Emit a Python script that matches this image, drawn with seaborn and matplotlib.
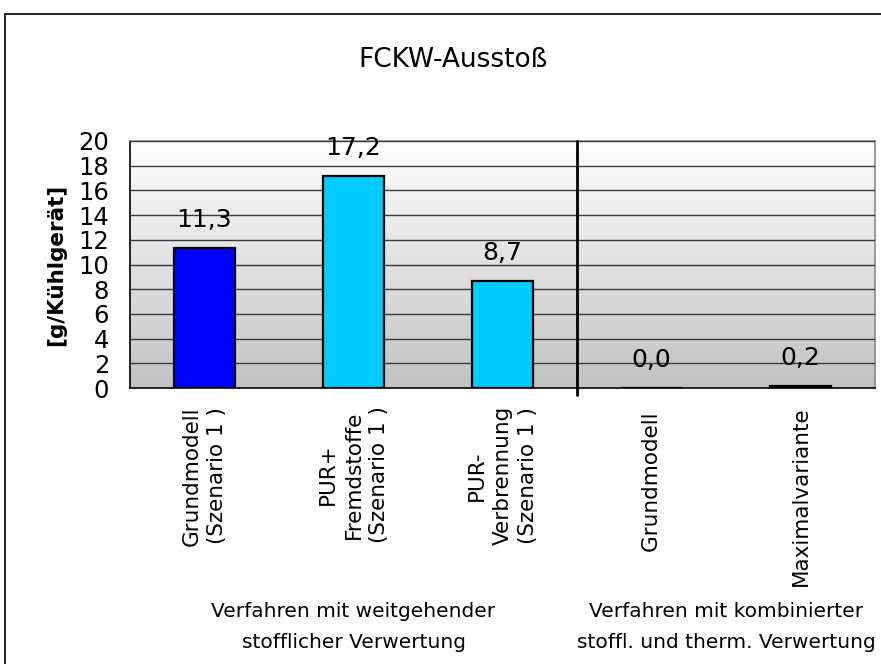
import numpy as np
import matplotlib
matplotlib.use("Agg")
import matplotlib.pyplot as plt
from matplotlib.colors import LinearSegmentedColormap
from matplotlib.lines import Line2D
import seaborn as sns

# Data
categories = [
    "Grundmodell\n(Szenario 1 )",
    "PUR+\nFremdstoffe\n(Szenario 1 )",
    "PUR-\nVerbrennung\n(Szenario 1 )",
    "Grundmodell ",
    "Maximalvariante",
]
values = [11.3, 17.2, 8.7, 0.0, 0.2]
value_labels = ["11,3", "17,2", "8,7", "0,0", "0,2"]
bar_colors = ["#0000ff", "#00ccff", "#00ccff", "#00ccff", "#00ccff"]
groups = ["Verfahren mit weitgehender\nstofflicher Verwertung",
          "Verfahren mit kombinierter\nstoffl. und therm. Verwertung"]
group_centers = [1.0, 3.5]
y_ticks = list(range(0, 21, 2))

sns.set_style("white")
plt.rcParams["font.family"] = ["DejaVu Sans"]
plt.rcParams["text.color"] = "black"
plt.rcParams["axes.labelcolor"] = "black"
plt.rcParams["xtick.color"] = "black"
plt.rcParams["ytick.color"] = "black"

fig = plt.figure(figsize=(8.81, 6.64), dpi=100)
ax = fig.add_axes([130 / 881, 1 - 388 / 664, 745 / 881, 247 / 664])

# Gradient plot background
cmap = LinearSegmentedColormap.from_list("bg", ["#c2c2c2", "#ffffff"])
ax.imshow(np.linspace(0, 1, 256)[:, None], cmap=cmap, origin="lower",
          extent=[-0.5, 4.5, 0, 20], aspect="auto", zorder=0)

sns.barplot(x=categories, y=values, hue=categories, palette=bar_colors,
            saturation=1, legend=False, width=0.41, edgecolor="black",
            linewidth=1.6, ax=ax, zorder=3)

ax.set_xlim(-0.5, 4.5)
ax.set_ylim(0, 20)
ax.set_yticks(y_ticks)
ax.yaxis.grid(True, color="#3a3a3a", linewidth=1.0, zorder=1)
ax.set_axisbelow(False)
for gl in ax.get_ygridlines():
    gl.set_zorder(1)

# Value labels above the bars
for i, (v, lab) in enumerate(zip(values, value_labels)):
    ax.annotate(lab, (i, v), xytext=(0, 21), textcoords="offset pixels",
                ha="center", va="baseline", fontsize=18, color="black",
                zorder=5)

# Category ticks at the boundaries, labels at the centres
ax.set_xticks(range(len(categories)))
ax.set_xticklabels(categories, rotation=90, fontsize=15.5, va="top",
                   ha="center", multialignment="center", linespacing=1.35,
                   color="black")
ax.set_xticks(np.arange(-0.5, 4.6, 1.0), minor=True)
ax.tick_params(axis="x", which="major", length=0, pad=13)
ax.tick_params(axis="x", which="minor", length=7, width=1.0,
               color="black", direction="out")
ax.tick_params(axis="y", length=7, width=1.0, color="black",
               labelcolor="black", direction="out", labelsize=17.5, pad=8)
ax.set_ylabel("[g/Kühlgerät]", fontsize=15.5, fontweight="bold", labelpad=9,
              color="black")

for side in ["left", "bottom"]:
    ax.spines[side].set_color("black")
    ax.spines[side].set_linewidth(1.2)
for side in ["top", "right"]:
    ax.spines[side].set_color("#8a8a8a")
    ax.spines[side].set_linewidth(1.2)

# Separator between the two process groups
ax.plot([2.5, 2.5], [-0.6, 20], color="black", linewidth=2.0,
        clip_on=False, zorder=6)

# Group captions below the category labels
for g, c in zip(groups, group_centers):
    ax.annotate(g, xy=(c, 1 - 627 / 664), xycoords=("data", "figure fraction"),
                ha="center", va="center", fontsize=14.5, linespacing=1.85,
                color="black", annotation_clip=False)

fig.suptitle("FCKW-Ausstoß", x=453 / 881, y=1 - 60 / 664, va="center",
             fontsize=19, color="black")

# Outer chart frame
fig.add_artist(Line2D([5 / 881, 1], [1 - 14 / 664, 1 - 14 / 664],
                      transform=fig.transFigure, color="black", linewidth=1.2))
fig.add_artist(Line2D([5 / 881, 5 / 881], [1 - 14 / 664, 0],
                      transform=fig.transFigure, color="black", linewidth=1.2))

fig.savefig("out.png", dpi=100)
